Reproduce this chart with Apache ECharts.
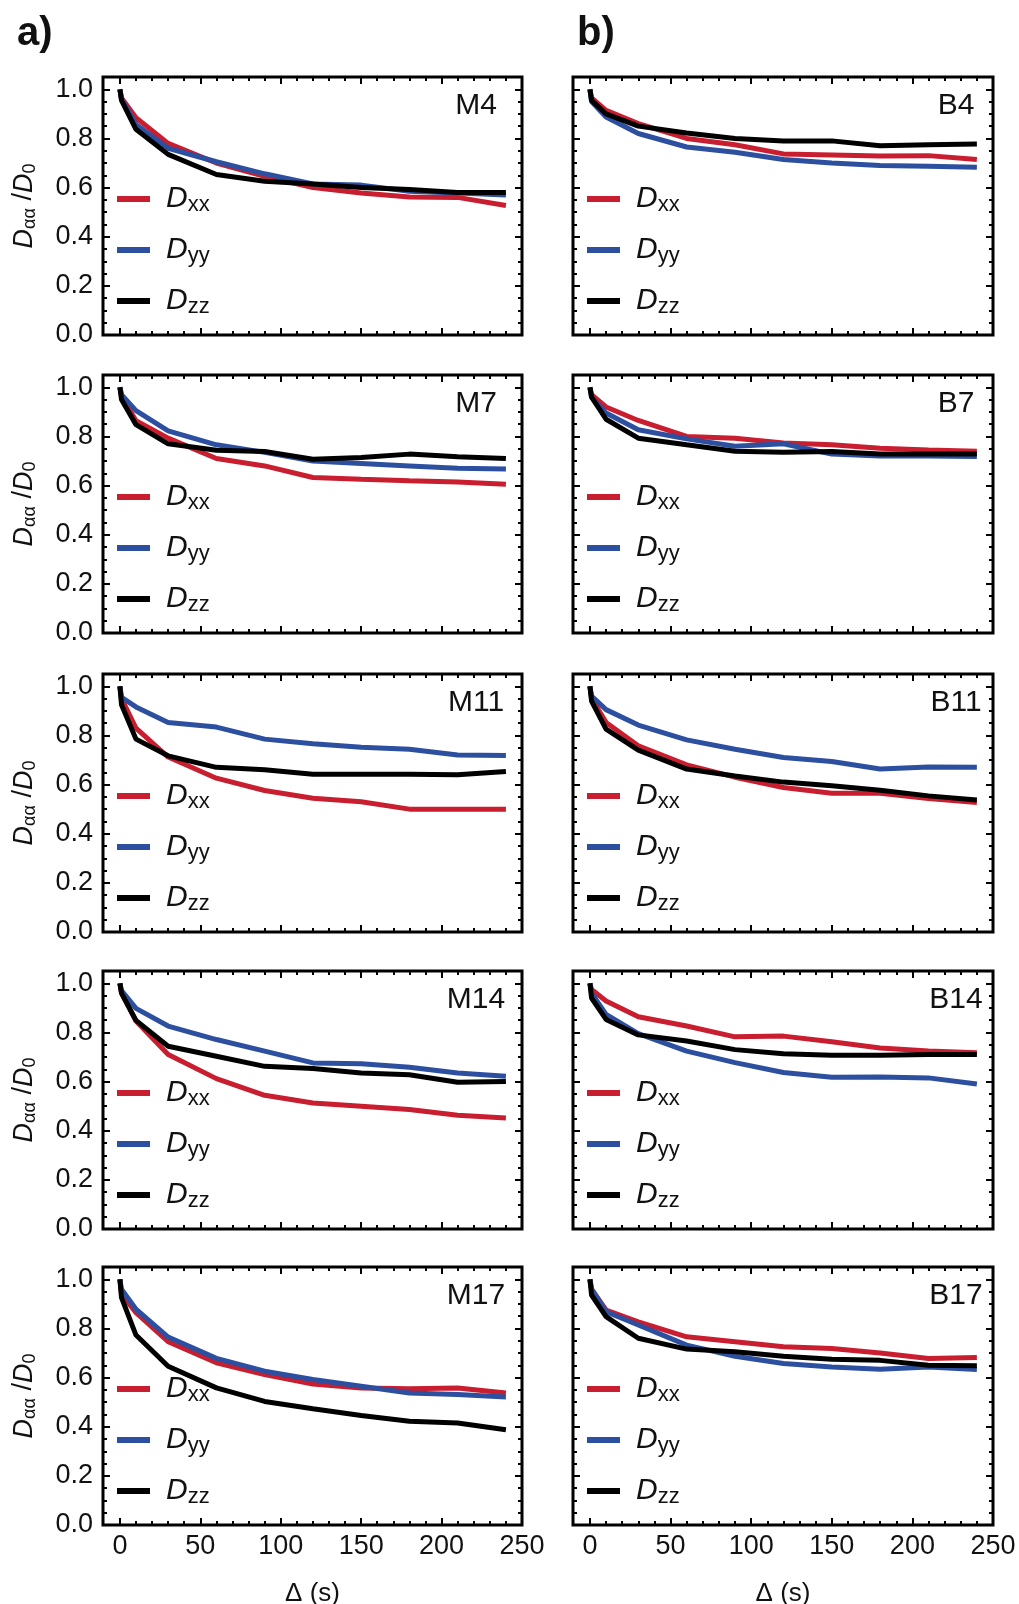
<!DOCTYPE html>
<html><head><meta charset="utf-8">
<script src="https://cdn.jsdelivr.net/npm/echarts@6/dist/echarts.min.js"></script>
<style>html,body{margin:0;padding:0;background:#fff}#c{width:1019px;height:1604px}</style>
</head><body><div id="c"></div>
<script>
// Diffusion time Δ (s)
const deltaT = [0, 1, 10, 30, 60, 90, 120, 150, 180, 210, 240];
const xMajorTicks = [0, 50, 100, 150, 200, 250];
const xMinorTicks = [10,20,30,40,60,70,80,90,110,120,130,140,160,170,180,190,210,220,230,240];
const yMajorTicks = [0, 0.2, 0.4, 0.6, 0.8, 1.0];
const yMinorTicks = [0.05,0.1,0.15,0.25,0.3,0.35,0.45,0.5,0.55,0.65,0.7,0.75,0.85,0.9,0.95];
const legendNames = ['Dxx', 'Dyy', 'Dzz'];

// a) column
const m4Dxx  = [1.0, 0.965, 0.884, 0.78, 0.70, 0.646, 0.60, 0.578, 0.562, 0.56, 0.527];
const m4Dyy  = [1.0, 0.96, 0.857, 0.76, 0.705, 0.656, 0.615, 0.61, 0.585, 0.578, 0.57];
const m4Dzz  = [1.0, 0.955, 0.837, 0.735, 0.653, 0.626, 0.615, 0.60, 0.592, 0.58, 0.58];
const m7Dxx  = [1.0, 0.965, 0.864, 0.793, 0.71, 0.68, 0.633, 0.626, 0.62, 0.615, 0.605];
const m7Dyy  = [1.0, 0.97, 0.905, 0.823, 0.766, 0.735, 0.70, 0.69, 0.68, 0.67, 0.667];
const m7Dzz  = [1.0, 0.95, 0.848, 0.77, 0.744, 0.739, 0.707, 0.714, 0.728, 0.717, 0.71];
const m11Dxx = [1.0, 0.95, 0.83, 0.712, 0.626, 0.576, 0.544, 0.53, 0.50, 0.50, 0.50];
const m11Dyy = [1.0, 0.955, 0.916, 0.853, 0.834, 0.785, 0.766, 0.752, 0.744, 0.72, 0.718];
const m11Dzz = [1.0, 0.925, 0.785, 0.717, 0.67, 0.66, 0.642, 0.642, 0.642, 0.64, 0.653];
const m14Dxx = [1.0, 0.96, 0.846, 0.71, 0.612, 0.544, 0.513, 0.50, 0.486, 0.463, 0.452];
const m14Dyy = [1.0, 0.97, 0.898, 0.826, 0.771, 0.724, 0.676, 0.673, 0.658, 0.635, 0.622];
const m14Dzz = [1.0, 0.96, 0.849, 0.744, 0.703, 0.662, 0.653, 0.635, 0.628, 0.597, 0.60];
const m17Dxx = [1.0, 0.94, 0.864, 0.746, 0.66, 0.612, 0.574, 0.558, 0.555, 0.558, 0.537];
const m17Dyy = [1.0, 0.96, 0.878, 0.765, 0.678, 0.626, 0.592, 0.565, 0.537, 0.531, 0.521];
const m17Dzz = [1.0, 0.925, 0.773, 0.646, 0.558, 0.503, 0.473, 0.446, 0.422, 0.415, 0.388];
// b) column
const b4Dxx  = [1.0, 0.965, 0.914, 0.86, 0.80, 0.774, 0.737, 0.733, 0.728, 0.73, 0.714];
const b4Dyy  = [1.0, 0.95, 0.887, 0.82, 0.765, 0.744, 0.714, 0.70, 0.69, 0.687, 0.683];
const b4Dzz  = [1.0, 0.955, 0.90, 0.85, 0.822, 0.80, 0.79, 0.79, 0.77, 0.774, 0.777];
const b7Dxx  = [1.0, 0.97, 0.92, 0.865, 0.80, 0.793, 0.773, 0.766, 0.752, 0.745, 0.74];
const b7Dyy  = [1.0, 0.96, 0.895, 0.827, 0.79, 0.76, 0.77, 0.728, 0.72, 0.72, 0.718];
const b7Dzz  = [1.0, 0.96, 0.87, 0.793, 0.766, 0.74, 0.736, 0.739, 0.728, 0.728, 0.728];
const b11Dxx = [1.0, 0.95, 0.853, 0.758, 0.68, 0.63, 0.588, 0.565, 0.565, 0.543, 0.527];
const b11Dyy = [1.0, 0.96, 0.905, 0.842, 0.782, 0.744, 0.71, 0.694, 0.663, 0.672, 0.67];
const b11Dzz = [1.0, 0.94, 0.826, 0.74, 0.663, 0.635, 0.61, 0.595, 0.577, 0.554, 0.537];
const b14Dxx = [1.0, 0.975, 0.928, 0.864, 0.826, 0.782, 0.785, 0.762, 0.737, 0.724, 0.717];
const b14Dyy = [1.0, 0.96, 0.873, 0.795, 0.724, 0.677, 0.637, 0.618, 0.619, 0.615, 0.59];
const b14Dzz = [1.0, 0.94, 0.853, 0.79, 0.765, 0.73, 0.713, 0.707, 0.707, 0.71, 0.71];
const b17Dxx = [1.0, 0.96, 0.875, 0.827, 0.766, 0.746, 0.725, 0.718, 0.70, 0.678, 0.682];
const b17Dyy = [1.0, 0.96, 0.868, 0.814, 0.732, 0.687, 0.657, 0.643, 0.634, 0.643, 0.633];
const b17Dzz = [1.0, 0.936, 0.848, 0.76, 0.716, 0.705, 0.687, 0.675, 0.67, 0.65, 0.648];

const panels = [
  {label:'M4',  col:0, row:0, d:[m4Dxx, m4Dyy, m4Dzz]},
  {label:'M7',  col:0, row:1, d:[m7Dxx, m7Dyy, m7Dzz]},
  {label:'M11', col:0, row:2, d:[m11Dxx, m11Dyy, m11Dzz]},
  {label:'M14', col:0, row:3, d:[m14Dxx, m14Dyy, m14Dzz]},
  {label:'M17', col:0, row:4, d:[m17Dxx, m17Dyy, m17Dzz]},
  {label:'B4',  col:1, row:0, d:[b4Dxx, b4Dyy, b4Dzz]},
  {label:'B7',  col:1, row:1, d:[b7Dxx, b7Dyy, b7Dzz]},
  {label:'B11', col:1, row:2, d:[b11Dxx, b11Dyy, b11Dzz]},
  {label:'B14', col:1, row:3, d:[b14Dxx, b14Dyy, b14Dzz]},
  {label:'B17', col:1, row:4, d:[b17Dxx, b17Dyy, b17Dzz]}
];

const FONT = '"Liberation Sans", Arial, Helvetica, sans-serif';
const COLORS = ['#c81e2f', '#2c4fa0', '#000000'];
const gridLeft = [103, 573], gridW = [419, 420];
const gridTop = [77, 375, 674, 971, 1267], gridH = 258;
const labelCx = [476, 956];

const grids = [], xAxes = [], yAxes = [], series = [], legends = [], graphics = [];

panels.forEach((p, i) => {
  const L = gridLeft[p.col], T = gridTop[p.row], W = gridW[p.col];
  const bottomRow = p.row === 4, leftCol = p.col === 0;
  grids.push({left:L, top:T, width:W, height:gridH, show:true, borderColor:'#000', borderWidth:3,
              backgroundColor:'transparent', containLabel:false, outerBoundsMode:'none'});
  const xb = xAxes.length, yb = yAxes.length;
  const mkX = (pos, ticks, len, showLab) => ({gridIndex:i, type:'value', min:-10.5, max:250, position:pos,
      axisLine:{show:false, onZero:false}, splitLine:{show:false},
      axisTick:{show:true, inside:true, length:len, lineStyle:{color:'#000', width:2}, customValues:ticks},
      axisLabel:{show:showLab, customValues:xMajorTicks, fontSize:27, color:'#111', fontFamily:FONT, margin:8}});
  const mkY = (pos, ticks, len, showLab) => ({gridIndex:i, type:'value', min:0, max:1.05, position:pos,
      axisLine:{show:false, onZero:false}, splitLine:{show:false},
      axisTick:{show:true, inside:true, length:len, lineStyle:{color:'#000', width:2}, customValues:ticks},
      axisLabel:{show:showLab, customValues:yMajorTicks, fontSize:27, color:'#111', fontFamily:FONT, margin:10,
                 formatter:v => v.toFixed(1)}});
  const xMain = mkX('bottom', xMajorTicks, 7, bottomRow);
  if (bottomRow) {
    Object.assign(xMain, {name:'Δ (s)', nameLocation:'middle', nameGap:56,
      nameTextStyle:{fontSize:26, color:'#111', fontFamily:FONT}});
  }
  xAxes.push(xMain, mkX('bottom', xMinorTicks, 4, false), mkX('top', xMajorTicks, 7, false), mkX('top', xMinorTicks, 4, false));
  const yMain = mkY('left', yMajorTicks, 7, leftCol);
  if (leftCol) {
    Object.assign(yMain, {name:'{i|D}{s|αα}{n| /}{i|D}{s|0}', nameLocation:'middle', nameRotate:90, nameGap:64,
      nameTextStyle:{color:'#111', rich:{
        i:{fontFamily:FONT, fontStyle:'italic', fontSize:27, lineHeight:30, color:'#111'},
        n:{fontFamily:FONT, fontSize:27, lineHeight:30, color:'#111'},
        s:{fontFamily:FONT, fontSize:18, lineHeight:14, verticalAlign:'bottom', color:'#111'}}}});
  }
  yAxes.push(yMain, mkY('left', yMinorTicks, 4, false), mkY('right', yMajorTicks, 7, false), mkY('right', yMinorTicks, 4, false));

  p.d.forEach((vals, k) => {
    series.push({type:'line', name:legendNames[k], xAxisIndex:xb, yAxisIndex:yb,
      data: deltaT.map((t, j) => [t, vals[j]]),
      showSymbol:false, symbol:'none', silent:true, animation:false, z:3 + k,
      lineStyle:{width:5, color:COLORS[k], join:'bevel'}, itemStyle:{color:COLORS[k]}});
  });

  legends.push({data:legendNames, orient:'vertical', left:L + 14, top:T + 107, padding:0,
    itemWidth:33, itemHeight:6, itemGap:19, icon:'rect', selectedMode:false,
    formatter: n => '{d|D}{s|' + n.slice(1) + '}',
    textStyle:{rich:{
      d:{fontFamily:FONT, fontStyle:'italic', fontSize:30, lineHeight:34, color:'#111', padding:[0,0,0,11]},
      s:{fontFamily:FONT, fontSize:22, lineHeight:16, verticalAlign:'bottom', color:'#111'}}}});

  graphics.push({type:'text', x:labelCx[p.col], y:T + 14, z:10,
    style:{text:p.label, fontSize:30, fontFamily:FONT, fill:'#111', align:'center', verticalAlign:'top'}});
});

graphics.push({type:'text', x:17, y:54, style:{text:'a)', fontSize:40, fontWeight:'bold', fontFamily:FONT, fill:'#111', verticalAlign:'bottom'}});
graphics.push({type:'text', x:577, y:54, style:{text:'b)', fontSize:40, fontWeight:'bold', fontFamily:FONT, fill:'#111', verticalAlign:'bottom'}});

const chart = echarts.init(document.getElementById('c'), null, {renderer:'canvas'});
chart.setOption({animation:false, backgroundColor:'#fff', grid:grids, xAxis:xAxes, yAxis:yAxes,
  series:series, legend:legends, graphic:graphics});
</script></body></html>
